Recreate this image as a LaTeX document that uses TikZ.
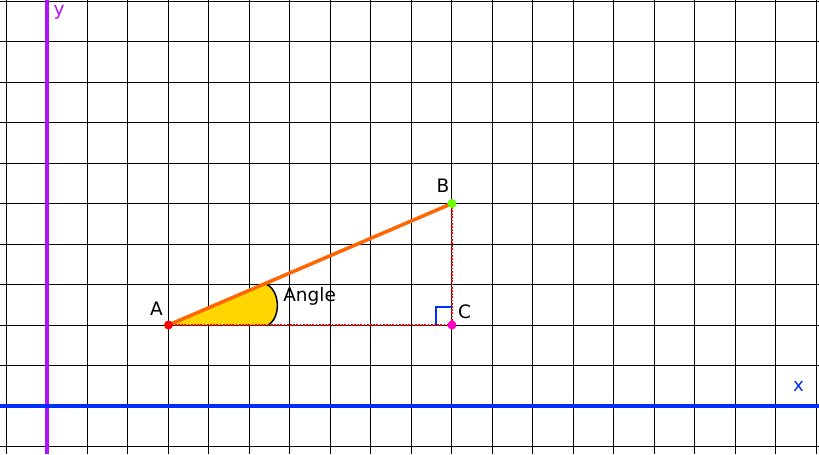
\documentclass[tikz,border=0pt]{standalone}
\usepackage{fontspec}
\setmainfont{DejaVu Sans}
\begin{document}
\begin{tikzpicture}[x=40.5pt,y=40.5pt,
  gridline/.style={black,line width=1pt},
  axisy/.style={draw=yaxiscol,line width=4pt},
  axisx/.style={draw=xaxiscol,line width=3.5pt},
  dotline/.style={draw=red,line width=2pt,dash pattern=on 1.8pt off 1.4pt},
  lbl/.style={inner sep=0pt,anchor=base,font=\fontsize{18.5}{20}\selectfont},
  pt/.style={circle,inner sep=0pt,minimum size=9pt}]
\definecolor{yaxiscol}{RGB}{176,16,255}
\definecolor{xaxiscol}{RGB}{0,48,255}
\definecolor{orangeseg}{RGB}{255,102,0}
\definecolor{gold}{RGB}{255,214,0}
\definecolor{ptgreen}{RGB}{102,255,0}
\definecolor{ptmag}{RGB}{255,0,200}
\useasboundingbox (-1.160,-1.185) rectangle (19.062,10.025);
\fill[white] (-1.160,-1.185) rectangle (19.062,10.025);
% grid
\foreach \i in {-1,...,19} \draw[gridline] (\i,-1.185) -- (\i,10.025);
\foreach \j in {-1,...,10} \draw[gridline] (-1.160,\j) -- (19.062,\j);
% axes
\coordinate (yb) at (0,-1.185);
\coordinate (yt) at (0,10.025);
\coordinate (xl) at (-1.160,0);
\coordinate (xr) at (19.062,0);
\draw[axisy] (yb) -- (yt);
\draw[axisx] (xl) -- (xr);
% points
\coordinate (A) at (3,2);
\coordinate (B) at (10,5);
\coordinate (C) at (10,2);
\coordinate (P1) at (5.38,3.02);
\coordinate (P2) at (5.46,2);
% angle
\fill[gold] (A) -- (P1) .. controls (5.75,2.9) and (5.8,2.2) .. (P2) -- cycle;
\draw[black,line width=1.5pt] (P1) .. controls (5.75,2.9) and (5.8,2.2) .. (P2);
% dotted legs
\draw[dotline] (A) -- (C);
\draw[dotline] (B) -- (C);
% hypotenuse
\draw[orangeseg,line width=3.5pt] (A) -- (B);
% right angle marker
\coordinate (R1) at (9.605,2);
\coordinate (R2) at (9.605,2.45);
\coordinate (R3) at (10,2.45);
\draw[xaxiscol,line width=2pt] (R1) -- (R2) -- (R3);
% dots
\node[pt,fill=red] (dA) at (A) {};
\node[pt,fill=ptgreen] (dB) at (B) {};
\node[pt,fill=ptmag] (dC) at (C) {};
% labels
\node[lbl] (lA) at (2.70,2.247) {A};
\node[lbl] (lB) at (9.78,5.26) {B};
\node[lbl] (lC) at (10.31,2.17) {C};
\node[lbl,anchor=base west] (lAng) at (5.83,2.57) {Angle};
\node[lbl,text=xaxiscol] (lx) at (18.56,0.37) {x};
\node[lbl,text=yaxiscol] (ly) at (0.30,9.63) {y};
\end{tikzpicture}
\end{document}
